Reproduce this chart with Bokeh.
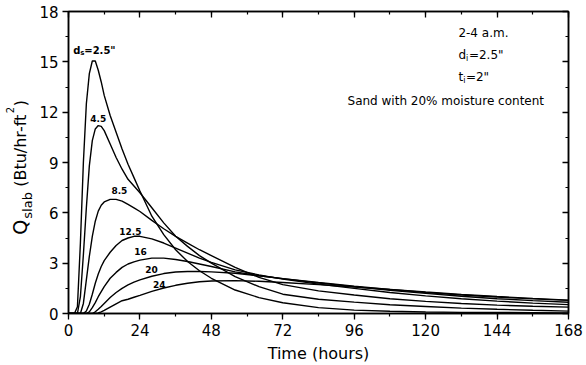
import math
from bokeh.plotting import figure
from bokeh.layouts import row
from bokeh.models import LinearAxis, SingleIntervalTicker, Range1d, Label
from bokeh.embed import file_html
from bokeh.resources import INLINE

# ---------------- data ----------------
hours = [0, 2, 3, 4, 5, 6, 7, 8, 9, 10, 11, 12, 14, 16, 18, 20, 22, 24,
         28, 32, 36, 40, 44, 48, 56, 64, 72, 84, 96, 108, 120, 132, 144, 156, 168]

q_ds_2_5 = [0, 0, 0.4, 4.2, 9.0, 12.5, 14.3, 15.05, 15.05, 14.5, 13.8, 13.0, 11.8, 10.8, 9.8, 8.9, 8.1, 7.3,
            5.8, 4.7, 3.8, 3.1, 2.55, 2.1, 1.4, 0.95, 0.64, 0.35, 0.2, 0.13, 0.09, 0.07, 0.06, 0.05, 0.04]
q_ds_4_5 = [0, 0, 0, 1.0, 3.5, 6.3, 8.8, 10.3, 11.0, 11.2, 11.15, 10.9, 10.1, 9.3, 8.6, 8.0, 7.6, 7.2,
            6.3, 5.4, 4.6, 4.0, 3.45, 3.0, 2.2, 1.6, 1.15, 0.85, 0.68, 0.52, 0.42, 0.32, 0.25, 0.19, 0.14]
q_ds_8_5 = [0, 0, 0, 0, 0.6, 2.0, 3.4, 4.6, 5.5, 6.1, 6.45, 6.65, 6.8, 6.8, 6.7, 6.5, 6.3, 6.08,
            5.55, 5.05, 4.6, 4.2, 3.8, 3.45, 2.75, 2.15, 1.72, 1.35, 1.1, 0.88, 0.72, 0.6, 0.5, 0.43, 0.38]
q_ds_12_5 = [0, 0, 0, 0, 0, 0.15, 0.55, 1.15, 1.8, 2.35, 2.8, 3.15, 3.65, 4.05, 4.35, 4.5, 4.6, 4.6,
             4.45, 4.2, 3.9, 3.6, 3.3, 3.05, 2.6, 2.3, 2.05, 1.75, 1.5, 1.25, 1.05, 0.88, 0.74, 0.62, 0.53]
q_ds_16 = [0, 0, 0, 0, 0, 0, 0.1, 0.35, 0.65, 1.0, 1.3, 1.6, 2.1, 2.45, 2.75, 2.95, 3.08, 3.18,
           3.3, 3.3, 3.22, 3.1, 2.95, 2.8, 2.48, 2.25, 2.08, 1.82, 1.6, 1.38, 1.2, 1.03, 0.88, 0.77, 0.67]
q_ds_20 = [0, 0, 0, 0, 0, 0, 0, 0, 0.1, 0.25, 0.42, 0.6, 0.95, 1.25, 1.5, 1.7, 1.87, 2.0,
           2.22, 2.38, 2.47, 2.5, 2.5, 2.48, 2.4, 2.25, 2.08, 1.85, 1.63, 1.43, 1.25, 1.1, 0.98, 0.87, 0.78]
q_ds_24 = [0, 0, 0, 0, 0, 0, 0, 0, 0, 0.03, 0.1, 0.18, 0.38, 0.58, 0.76, 0.85, 0.97, 1.08,
           1.32, 1.52, 1.68, 1.8, 1.89, 1.94, 1.96, 1.92, 1.85, 1.72, 1.58, 1.43, 1.28, 1.14, 1.01, 0.9, 0.8]

series = [q_ds_2_5, q_ds_4_5, q_ds_8_5, q_ds_12_5, q_ds_16, q_ds_20, q_ds_24]
curve_labels = ["4.5", "8.5", "12.5", "16", "20", "24"]

x_ticks_interval = 24
y_ticks_interval = 3

FONT = "DejaVu Sans"
H = 365
LEFT_W = 34
BT, BB = 11, 51

# ---------- main plot ----------
p = figure(width=586 - LEFT_W, height=H, output_backend="svg", toolbar_location=None,
           x_range=Range1d(0, 168), y_range=Range1d(0, 18), title=None,
           min_border_left=68 - LEFT_W, min_border_right=18, min_border_top=BT, min_border_bottom=BB,
           background_fill_color="white", border_fill_color="white")
p.xgrid.visible = False
p.ygrid.visible = False
p.outline_line_color = "black"
p.outline_line_width = 1.5

def style_axis(ax, interval, labels=True, inward=False):
    ax.ticker = SingleIntervalTicker(interval=interval, num_minor_ticks=2)
    ax.axis_line_color = "black"
    ax.axis_line_width = 1.5
    ax.major_tick_line_color = "black"
    ax.minor_tick_line_color = "black"
    ax.major_tick_line_width = 1.3
    ax.minor_tick_line_width = 1.2
    if inward:
        ax.major_tick_in, ax.major_tick_out = 6, 0
        ax.minor_tick_in, ax.minor_tick_out = 3, 0
    else:
        ax.major_tick_in, ax.major_tick_out = 0, 6
        ax.minor_tick_in, ax.minor_tick_out = 0, 3
    if labels:
        ax.major_label_text_font = FONT
        ax.major_label_text_font_size = "15px"
        ax.major_label_text_color = "black"
        ax.major_label_standoff = 4
    else:
        ax.major_label_text_font_size = "0px"
        ax.major_label_text_color = None
        ax.major_label_standoff = 0

style_axis(p.xaxis[0], x_ticks_interval)
style_axis(p.yaxis[0], y_ticks_interval)
p.xaxis.axis_label = "Time (hours)"
p.xaxis.axis_label_text_font = FONT
p.xaxis.axis_label_text_font_size = "16px"
p.xaxis.axis_label_text_font_style = "normal"
p.xaxis.axis_label_text_color = "black"
p.xaxis.axis_label_standoff = 5

top = LinearAxis()
style_axis(top, x_ticks_interval, labels=False, inward=True)
p.add_layout(top, "above")
right = LinearAxis()
style_axis(right, y_ticks_interval, labels=False, inward=True)
p.add_layout(right, "right")

for ys in series:
    p.line(hours, ys, line_color="black", line_width=1.4)

# ---- curve labels ----
def lab(x, y, text, size="9px", style="bold", xo=0, yo=0, align="center"):
    p.add_layout(Label(x=x, y=y, text=text, x_offset=xo, y_offset=yo,
                       text_font=FONT, text_font_size=size, text_font_style=style,
                       text_color="black", text_align=align, text_baseline="middle"))

# d_s=2.5"
lab(1.6, 15.7, "d", size="10px", align="left")
lab(1.6, 15.7, "s", size="7px", align="left", xo=7, yo=-3)
lab(1.6, 15.7, "=2.5\"", size="10px", align="left", xo=11)
label_pos = [(10.0, 11.6), (17.1, 7.35), (20.8, 4.9), (24.2, 3.7), (27.9, 2.6), (30.5, 1.75)]
for (x, y), t in zip(label_pos, curve_labels):
    lab(x, y, t)

# ---- annotation block ----
lab(131, 16.7, "2-4 a.m.", size="12px", style="normal", align="left")
lab(131, 15.4, "d", size="12px", style="normal", align="left")
lab(131, 15.4, "i", size="8px", style="normal", align="left", xo=7.6, yo=-3)
lab(131, 15.4, "=2.5\"", size="12px", style="normal", align="left", xo=10.5)
lab(131, 14.08, "t", size="12px", style="normal", align="left")
lab(131, 14.08, "i", size="8px", style="normal", align="left", xo=4.8, yo=-3)
lab(131, 14.08, "=2\"", size="12px", style="normal", align="left", xo=7.5)
lab(93.75, 12.67, "Sand with 20% moisture content", size="12px", style="normal", align="left")

# ---------- narrow strip holding the rotated y-axis title (shares the y range) ----------
yl = figure(width=LEFT_W, height=H, output_backend="svg", toolbar_location=None,
            x_range=Range1d(0, LEFT_W), y_range=p.y_range, title=None,
            min_border_left=0, min_border_right=0, min_border_top=BT, min_border_bottom=BB,
            x_axis_location=None, y_axis_location=None,
            background_fill_color="white", border_fill_color="white")
yl.xgrid.visible = False
yl.ygrid.visible = False
yl.outline_line_color = None

def ylab(x, y, text, size):
    yl.add_layout(Label(x=x, y=y, text=text,
                        angle=math.pi / 2, angle_units="rad",
                        text_font=FONT, text_font_size=size, text_color="black",
                        text_align="left", text_baseline="middle"))

ylab(19, 4.69, "Q", "19px")
ylab(26.5, 5.65, "slab", "13px")
ylab(19.5, 7.55, "(Btu/hr-ft", "16px")
ylab(9.5, 11.94, "2", "10px")
ylab(19.5, 12.36, ")", "16px")

layout = row(yl, p, spacing=0)
open("out.html", "w").write(file_html(layout, INLINE))
